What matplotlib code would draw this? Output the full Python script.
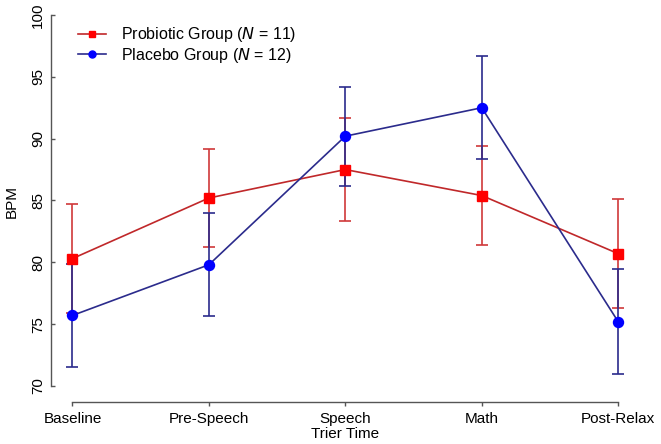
import matplotlib
matplotlib.use("Agg")
import matplotlib.pyplot as plt

plt.rcParams['font.family'] = ['Liberation Sans', 'DejaVu Sans']

# data
times = ["Baseline", "Pre-Speech", "Speech", "Math", "Post-Relax"]
probiotic_mean = [80.3, 85.2, 87.5, 85.4, 80.7]
probiotic_err = [4.4, 4.0, 4.2, 4.0, 4.4]
placebo_mean = [75.7, 79.8, 90.2, 92.5, 75.2]
placebo_err = [4.2, 4.15, 4.0, 4.15, 4.25]

x = list(range(1, len(times) + 1))

fig = plt.figure(figsize=(6.61, 4.44), dpi=100)
ax = fig.add_axes([0.0766, 0.0946, 0.8916, 0.905])

axis_col = "#555555"

# probiotic group
ax.errorbar(x, probiotic_mean, yerr=probiotic_err, fmt="none",
            ecolor="#d0383a", elinewidth=1.2, capsize=4.5, capthick=1.2, zorder=2)
ax.plot(x, probiotic_mean, color="#c0282a", lw=1.2, marker="s", ms=6.8,
        mfc="#ff0000", mec="#ff0000", zorder=3,
        label="Probiotic Group ($\\it{N}$ = 11)")

# placebo group
ax.errorbar(x, placebo_mean, yerr=placebo_err, fmt="none",
            ecolor="#2b2b8c", elinewidth=1.2, capsize=4.5, capthick=1.2, zorder=2)
ax.plot(x, placebo_mean, color="#2b2b8c", lw=1.2, marker="o", ms=7.2,
        mfc="#0000ff", mec="#0000ff", zorder=3,
        label="Placebo Group ($\\it{N}$ = 12)")

ax.set_xlim(0.84, 5.16)
ax.set_ylim(68.7, 101.2)
ax.set_xticks(x)
ax.set_xticklabels(times, fontsize=11)
ax.set_yticks([70, 75, 80, 85, 90, 95, 100])
ax.set_yticklabels(["70", "75", "80", "85", "90", "95", "100"],
                   fontsize=11, rotation=90, va="center")

for side in ["top", "right"]:
    ax.spines[side].set_visible(False)
ax.spines["left"].set_bounds(70, 100)
ax.spines["bottom"].set_bounds(1, 5)
for side in ["left", "bottom"]:
    ax.spines[side].set_color(axis_col)
    ax.spines[side].set_linewidth(1.0)
ax.tick_params(colors=axis_col, length=3, width=1.0, labelcolor="black")
ax.tick_params(axis="x", direction="out", pad=4)
ax.tick_params(axis="y", direction="in", pad=4)

ax.set_xlabel("Trier Time", fontsize=11, labelpad=1)
ax.set_ylabel("BPM", fontsize=11, labelpad=9)

ax.legend(loc="upper left", bbox_to_anchor=(0.035, 0.953), frameon=False,
          fontsize=11.5, handlelength=1.75, handletextpad=0.95,
          labelspacing=0.1, borderaxespad=0, markerscale=0.7)

fig.savefig("out.png", dpi=100)
